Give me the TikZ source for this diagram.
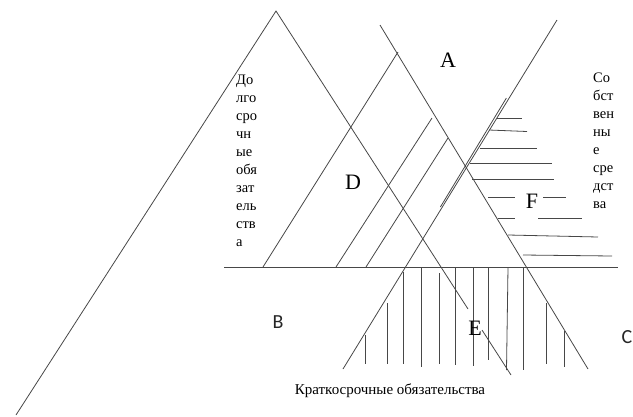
\documentclass[tikz,border=0pt]{standalone}
\usepackage{fontspec}
\setmainfont{Liberation Serif}
\newfontfamily\bcfont{Carlito}
\begin{document}
\begin{tikzpicture}[x=1pt,y=-1pt,
  ln/.style={draw=black!72, line width=0.8pt},
  big/.style={font=\fontsize{22}{24}\selectfont, inner sep=0pt},
  sans/.style={font=\bcfont\fontsize{20}{22}\selectfont, inner sep=0pt, text=black!85},
  stack/.style={font=\fontsize{14.5}{16}\selectfont, inner sep=0pt, anchor=base west},
  small/.style={font=\fontsize{15}{17}\selectfont, inner sep=0pt, anchor=base}]
\useasboundingbox (0,0) rectangle (633,416);
% main lines
\coordinate (apex) at (276,11);
\coordinate (bl) at (16,415);
\coordinate (br1) at (468,309);
\coordinate (br2) at (482,330);
\coordinate (br3) at (511,375);
\draw[ln] (bl) -- (apex) -- (br1);
\draw[ln] (br2) -- (br3);
\coordinate (l3a) at (380,25);
\coordinate (l3b) at (588,369);
\draw[ln] (l3a) -- (l3b);
\coordinate (l4a) at (557,20);
\coordinate (l4b) at (343,369);
\draw[ln] (l4a) -- (l4b);
\coordinate (d1a) at (505,98);
\coordinate (d1b) at (439,207);
\draw[ln] ([xshift=1.4pt]d1a) -- ([xshift=1.4pt]d1b);
\coordinate (l5a) at (398,52);
\coordinate (l5b) at (263,267);
\draw[ln] (l5a) -- (l5b);
\coordinate (h1) at (224,267.5);
\coordinate (h2) at (618,267.5);
\draw[ln] (h1) -- (h2);
% hatch in D
\draw[ln] (432,118) -- (336,267);
\draw[ln] (448,138) -- (366,267);
% horizontal hatch F
\draw[ln] (497,118) -- (522,118);
\draw[ln] (489,130) -- (527,131.5);
\draw[ln] (480,148) -- (537,148);
\draw[ln] (470,163) -- (552,163);
\draw[ln] (472,179) -- (554,179);
\draw[ln] (488,197) -- (515,197);
\draw[ln] (543,197) -- (566,197);
\draw[ln] (498,218) -- (515,218);
\draw[ln] (538,218) -- (582,218);
\draw[ln] (508,235) -- (598,237);
\draw[ln] (523,255) -- (612,256);
% vertical hatch
\draw[ln] (365,335) -- (365,364);
\draw[ln] (387.5,303) -- (387.5,364);
\draw[ln] (403,272) -- (403,364);
\draw[ln] (421.5,268) -- (421.5,367);
\draw[ln] (439,273) -- (439,364);
\draw[ln] (455,268) -- (455,365);
\draw[ln] (473,268) -- (473,366);
\draw[ln] (488,268) -- (488,360);
\draw[ln] (508,268) -- (506.5,370);
\draw[ln] (523,268) -- (523,370);
\draw[ln] (546,303) -- (546,364);
\draw[ln] (564,331) -- (564,367);
% labels
\node[big] (A) at (448,60) {A};
\node[big] (D) at (353,182) {D};
\node[big, fill=white, inner xsep=1pt] (F) at (532,201) {F};
\node[big] (E) at (475,328) {E};
\node[sans] (B) at (278,322) {B};
\node[sans] (C) at (627,337) {C};
\node[small] (kr) at (390,394) {Краткосрочные обязательства};
\foreach \t [count=\i] in {До,лго,сро,чн,ые,обя,зат,ель,ств,а}
  \node[stack] (lt\i) at (236,{84+(\i-1)*18.1}) {\t};
\foreach \t [count=\i] in {Со,бст,вен,ны,е,сре,дст,ва}
  \node[stack] (rt\i) at (593,{82+(\i-1)*18}) {\t};
\end{tikzpicture}
\end{document}
